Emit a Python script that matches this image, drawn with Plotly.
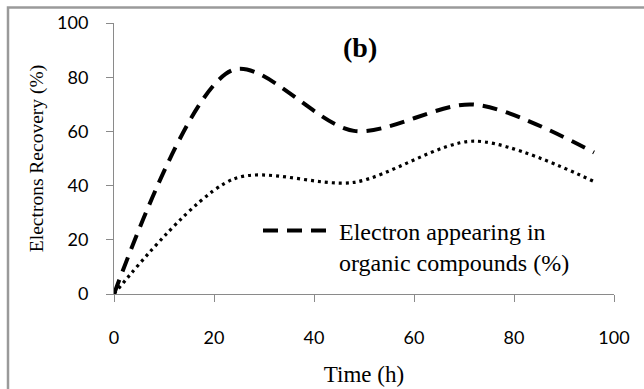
import plotly.graph_objects as go

time_h = [0, 24, 48, 72, 96]
organic_pct = [0, 82.8, 60.2, 69.9, 52.2]
other_pct = [0, 42.5, 41.2, 56.4, 41.5]

x_ticks = [0, 20, 40, 60, 80, 100]
y_ticks = [0, 20, 40, 60, 80, 100]

AXIS_GRAY = "#8a8a8a"
SERIF = "Liberation Serif"
SANS = "Lato"

fig = go.Figure()
fig.add_trace(go.Scatter(
    x=time_h, y=other_pct, mode="lines",
    line=dict(color="black", width=3.2, dash="3px,4px", shape="spline", smoothing=0.85),
    showlegend=False, name="other"))
fig.add_trace(go.Scatter(
    x=time_h, y=organic_pct, mode="lines",
    line=dict(color="black", width=4, dash="15px,9px", shape="spline", smoothing=0.85),
    name="Electron appearing in<br>organic compounds (%)"))

fig.update_layout(
    width=644, height=389,
    margin=dict(l=114, r=30, t=23, b=95, autoexpand=False),
    paper_bgcolor="white", plot_bgcolor="white",
    showlegend=True,
    legend=dict(x=0.288, y=0.316, xanchor="left", yanchor="top",
                font=dict(family=SERIF, size=24, color="black"),
                bgcolor="rgba(0,0,0,0)", itemwidth=71, valign="top",
                tracegroupgap=0),
    xaxis=dict(range=[0, 100], tickvals=x_ticks, ticktext=[str(v) for v in x_ticks],
               showgrid=False, zeroline=False, showline=True, linecolor=AXIS_GRAY, linewidth=1,
               ticks="outside", ticklen=7, tickcolor=AXIS_GRAY, ticklabelstandoff=20,
               tickfont=dict(family=SANS, size=18, color="black"), automargin=False,
               title=dict(text="Time (h)", font=dict(family=SERIF, size=23, color="black"), standoff=19)),
    yaxis=dict(range=[0, 100], tickvals=y_ticks, ticktext=[str(v) for v in y_ticks],
               showgrid=False, zeroline=False, showline=True, linecolor=AXIS_GRAY, linewidth=1,
               ticks="outside", ticklen=7, tickcolor=AXIS_GRAY, ticklabelstandoff=14,
               tickfont=dict(family=SANS, size=18, color="black"), automargin=False,
               title=dict(text="Electrons Recovery (%)", font=dict(family=SERIF, size=19.5, color="black"), standoff=8)),
)

fig.add_annotation(text="<b>(b)</b>", xref="paper", yref="paper", x=(360 - 114) / 500, y=(294 - 47) / 271,
                   xanchor="center", yanchor="middle",
                   showarrow=False, font=dict(family=SERIF, size=28, color="black"))

# outer frame (cropped at right and bottom)
fig.add_shape(type="rect", xref="paper", yref="paper",
              x0=(8 - 114) / 500, x1=(660 - 114) / 500,
              y0=(294 - 420) / 271, y1=(294 - 7.5) / 271,
              line=dict(color="#9a9a9a", width=2.5), fillcolor="rgba(0,0,0,0)", layer="below")

fig.write_html("out.html", config={"displayModeBar": False},
               post_script="document.body.style.margin='0';")
